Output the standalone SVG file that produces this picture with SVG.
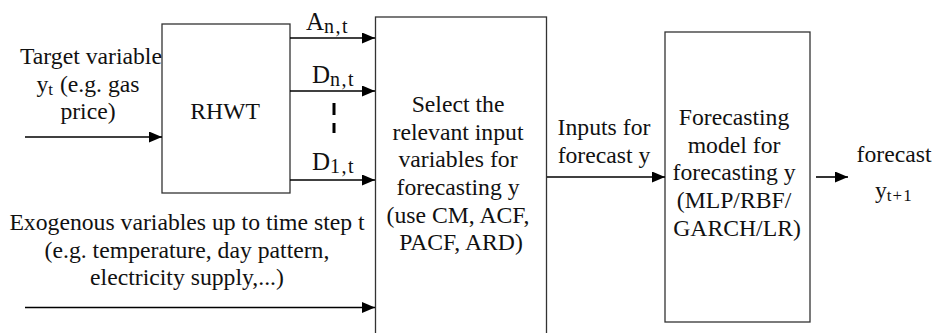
<svg xmlns="http://www.w3.org/2000/svg" width="938" height="333" viewBox="0 0 938 333">
  <defs>
    <marker id="arrow" markerUnits="userSpaceOnUse" markerWidth="14" markerHeight="11" refX="13" refY="5.5" orient="auto">
      <path d="M0,0 L13,5.5 L0,11 Z" fill="#000"/>
    </marker>
    <style>
      .t { font-family: 'Liberation Serif', 'Times New Roman', serif; font-size: 23.7px; fill: #111; }
      .c { text-anchor: middle; }
      .sub { font-size: 17px; letter-spacing: 1px; }
      .lbl { font-size: 25px; }
      .lsub { font-size: 20px; letter-spacing: 1.5px; }
      .box { fill: #fff; stroke: #333; stroke-width: 1.3; }
      .conn { stroke: #000; stroke-width: 1.6; fill: none; marker-end: url(#arrow); }
    </style>
  </defs>
  <rect width="938" height="333" fill="#fff"/>

  <g class="t">
    <!-- wavelet transform block -->
    <g id="rhwt">
      <rect class="box" x="162" y="24" width="128" height="169"/>
      <text class="c" x="225" y="119">RHWT</text>
    </g>

    <!-- input selection block -->
    <g id="select">
      <rect class="box" x="375.5" y="17" width="171" height="330"/>
      <text class="c" x="461">
        <tspan x="461" y="112">Select the</tspan>
        <tspan x="461" y="140">relevant input</tspan>
        <tspan x="461" y="167">variables for</tspan>
        <tspan x="461" y="195">forecasting y</tspan>
        <tspan x="461" y="223">(use CM, ACF,</tspan>
        <tspan x="461" y="250">PACF, ARD)</tspan>
      </text>
    </g>

    <!-- forecasting model block -->
    <g id="model">
      <rect class="box" x="665" y="32" width="145" height="290"/>
      <text class="c" x="737">
        <tspan x="737" y="125">Forecasting</tspan>
        <tspan x="737" y="153">model for</tspan>
        <tspan x="737" y="180">forecasting y</tspan>
        <tspan x="737" y="208">(MLP/RBF/</tspan>
        <tspan x="737" y="236">GARCH/LR)</tspan>
      </text>
    </g>

    <!-- free labels -->
    <g id="target-label">
      <text class="c" x="91" y="64">Target variable</text>
      <text class="c" x="88" y="92">y<tspan class="sub" dy="3">t</tspan><tspan dy="-3"> (e.g. gas</tspan></text>
      <text class="c" x="88" y="119">price)</text>
    </g>
    <g id="exogenous-label">
      <text class="c" x="187" y="230">Exogenous variables up to time step t</text>
      <text class="c" x="187" y="258">(e.g. temperature, day pattern,</text>
      <text class="c" x="187" y="285">electricity supply,...)</text>
    </g>
    <g id="inputs-label">
      <text class="c" x="604" y="135">Inputs for</text>
      <text class="c" x="604" y="163">forecast y</text>
    </g>
    <g id="output-label">
      <text class="c" x="894" y="162">forecast</text>
      <text x="875" y="198">y<tspan class="sub" dy="3">t+1</tspan></text>
    </g>
    <g id="coeff-labels">
      <text class="lbl" x="306" y="30">A<tspan class="lsub" dy="3">n,t</tspan></text>
      <text class="lbl" x="312" y="83">D<tspan class="lsub" dy="3">n,t</tspan></text>
      <text class="lbl" x="312" y="170">D<tspan class="lsub" dy="3">1,t</tspan></text>
    </g>
  </g>

  <!-- connectors -->
  <g id="connectors">
    <line class="conn" x1="25" y1="137" x2="162" y2="137"/>
    <line class="conn" x1="290" y1="38" x2="375" y2="38"/>
    <line class="conn" x1="290" y1="91" x2="375" y2="91"/>
    <line class="conn" x1="290" y1="180" x2="375" y2="180"/>
    <line x1="334" y1="103" x2="334" y2="133" stroke="#000" stroke-width="3" stroke-dasharray="12 8"/>
    <line class="conn" x1="25" y1="307.5" x2="375" y2="307.5"/>
    <line class="conn" x1="547" y1="177" x2="665" y2="177"/>
    <line class="conn" x1="816" y1="177" x2="848" y2="177"/>
  </g>
</svg>
